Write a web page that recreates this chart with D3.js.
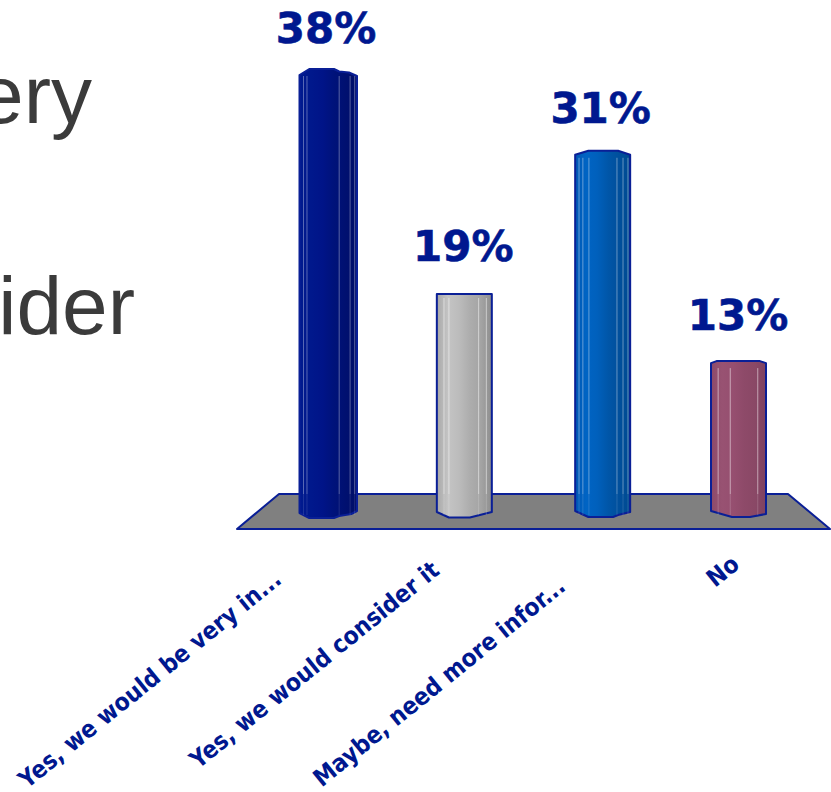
<!DOCTYPE html>
<html>
<head>
<meta charset="utf-8">
<script src="https://d3js.org/d3.v7.min.js"></script>
<style>
html, body { margin: 0; padding: 0; background: #fff; overflow: hidden; }
svg { display: block; }
</style>
</head>
<body>
<svg></svg>
<script>
// chart values
const categories = ["Yes, we would be very in...", "Yes, we would consider it", "Maybe, need more infor...", "No"];
const values = [38, 19, 31, 13];
const valueLabels = ["38%", "19%", "31%", "13%"];
const sideText = ["ery", "ider"];

const width = 831;
const height = 792;
const navy = "#00188f";
const edge = "#0a1f96";

const svg = d3.select("svg")
    .attr("width", width)
    .attr("height", height)
    .attr("viewBox", `0 0 ${width} ${height}`);

const x = d3.scalePoint().domain(categories).range([327, 739]);
const y = d3.scaleLinear().domain([0, 38]).range([513, 69]);
const barWidth = 55;

// Look of each column: colours across it, facet lines, top and bottom outline
const looks = [
    {
        stops: ["#001a8e", "#00188c", "#001488", "#00127a", "#001070", "#000e68"],
        lines: [0.07, 0.13, 0.69, 0.88, 0.96], extra: 2.5, lineOpacity: 0.35,
        top: [[0, 6], [0.17, 0], [0.6, 0], [0.69, 2.5], [0.86, 3.5], [1, 7]],
        bottom: [[0, 0], [0.17, 5], [0.6, 5], [0.69, 3], [0.9, 1], [1, -2]]
    },
    {
        stops: ["#a8a8a8", "#c4c4c4", "#bcbcbc", "#adadad", "#a4a4a4", "#8e8e8e"],
        lines: [0.13, 0.22, 0.76, 0.9], extra: 0, lineOpacity: 0.5,
        top: [[0, 3], [1, 3]],
        bottom: [[0, -1], [0.22, 4.5], [0.6, 4.5], [1, -1]]
    },
    {
        stops: ["#0058b4", "#0064c4", "#0060bc", "#0056a8", "#004f9c", "#004a90"],
        lines: [0.07, 0.14, 0.25, 0.76, 0.87, 0.96], extra: 0, lineOpacity: 0.4,
        top: [[0, 4], [0.24, 0], [0.78, 0], [1, 4]],
        bottom: [[0, -2], [0.24, 4], [0.69, 4], [0.78, 2], [1, -1]]
    },
    {
        stops: ["#8c4a6a", "#985272", "#964f70", "#8e4a69", "#8a4866", "#7e4260"],
        lines: [0.13, 0.35, 0.85], extra: 0, lineOpacity: 0.5,
        top: [[0, 2], [0.1, 0], [0.89, 0], [1, 2]],
        bottom: [[0, -2], [0.38, 4], [0.71, 4], [1, 1]]
    }
];
const barNudge = [0, 0, 1, -0.5];

const labelGap = [26, 30, 28, 31];
const tickEnds = [[283, 582], [441, 573], [567, 589], [741, 567]];
const floorTop = 494;
const floorBottom = 529;

// Gradients for the columns
const defs = svg.append("defs");
looks.forEach((look, i) => {
    const grad = defs.append("linearGradient").attr("id", `col${i}`);
    look.stops.forEach((c, j) => {
        grad.append("stop")
            .attr("offset", j / (look.stops.length - 1))
            .attr("stop-color", c);
    });
});

// Text cut off by the left edge of the slide
svg.append("g")
    .selectAll("text")
    .data(sideText)
    .enter().append("text")
    .attr("x", (d, i) => i === 0 ? 92 : 135)
    .attr("y", (d, i) => i === 0 ? 123 : 334)
    .attr("text-anchor", "end")
    .attr("font-family", "Liberation Sans, Arial, sans-serif")
    .attr("font-size", 82)
    .attr("fill", "#3b3b3b")
    .text(d => d);

// Floor
svg.append("path")
    .attr("d", d3.line()([[279, floorTop], [788, floorTop], [830, floorBottom], [237, floorBottom]]) + "Z")
    .attr("fill", "#808080")
    .attr("stroke", edge)
    .attr("stroke-width", 2)
    .attr("stroke-linejoin", "round");

// Columns
const outline = d3.line();
const cols = svg.append("g")
    .selectAll("g")
    .data(categories)
    .enter().append("g");

cols.each(function(cat, i) {
    const g = d3.select(this);
    const look = looks[i];
    const left = x(cat) - barWidth / 2 + barNudge[i];
    const w = barWidth + look.extra;
    const topY = y(values[i]);
    const baseY = y(0);
    const pts = [
        ...look.top.map(p => [left + p[0] * w, topY + p[1]]),
        ...look.bottom.slice().reverse().map(p => [left + p[0] * w, baseY + p[1]])
    ];

    g.append("path")
        .attr("d", outline(pts) + "Z")
        .attr("fill", `url(#col${i})`)
        .attr("stroke", edge)
        .attr("stroke-width", 2)
        .attr("stroke-linejoin", "round");

    // Thin facet lines, brighter above the floor
    look.lines.forEach(f => {
        const lx = left + f * w;
        g.append("line")
            .attr("x1", lx).attr("x2", lx)
            .attr("y1", topY + 7).attr("y2", floorTop)
            .attr("stroke", "#fff")
            .attr("stroke-opacity", look.lineOpacity);
        g.append("line")
            .attr("x1", lx).attr("x2", lx)
            .attr("y1", floorTop).attr("y2", baseY + 2)
            .attr("stroke", "#fff")
            .attr("stroke-opacity", look.lineOpacity * 0.35);
    });
});

// Value labels
svg.append("g")
    .selectAll("text")
    .data(values)
    .enter().append("text")
    .attr("x", (d, i) => x(categories[i]) - 1)
    .attr("y", (d, i) => y(d) - labelGap[i])
    .attr("text-anchor", "middle")
    .attr("font-family", "DejaVu Sans, Verdana, sans-serif")
    .attr("font-weight", "bold")
    .attr("font-size", 42)
    .attr("fill", navy)
    .attr("stroke", navy)
    .attr("stroke-width", 0.6)
    .text((d, i) => valueLabels[i]);

// Category labels on the axis
const axis = svg.append("g")
    .call(d3.axisBottom(x).tickSize(0));
axis.select(".domain").remove();
axis.selectAll(".tick").attr("transform", null);
axis.selectAll(".tick text")
    .attr("x", null).attr("y", null).attr("dy", null)
    .attr("text-anchor", "end")
    .attr("transform", (d, i) => `translate(${tickEnds[i][0]}, ${tickEnds[i][1]}) rotate(-39)`)
    .attr("font-family", "DejaVu Sans, Verdana, sans-serif")
    .attr("font-weight", "bold")
    .style("font-stretch", "condensed")
    .attr("font-size", 24.3)
    .attr("fill", navy);
</script>
</body>
</html>
